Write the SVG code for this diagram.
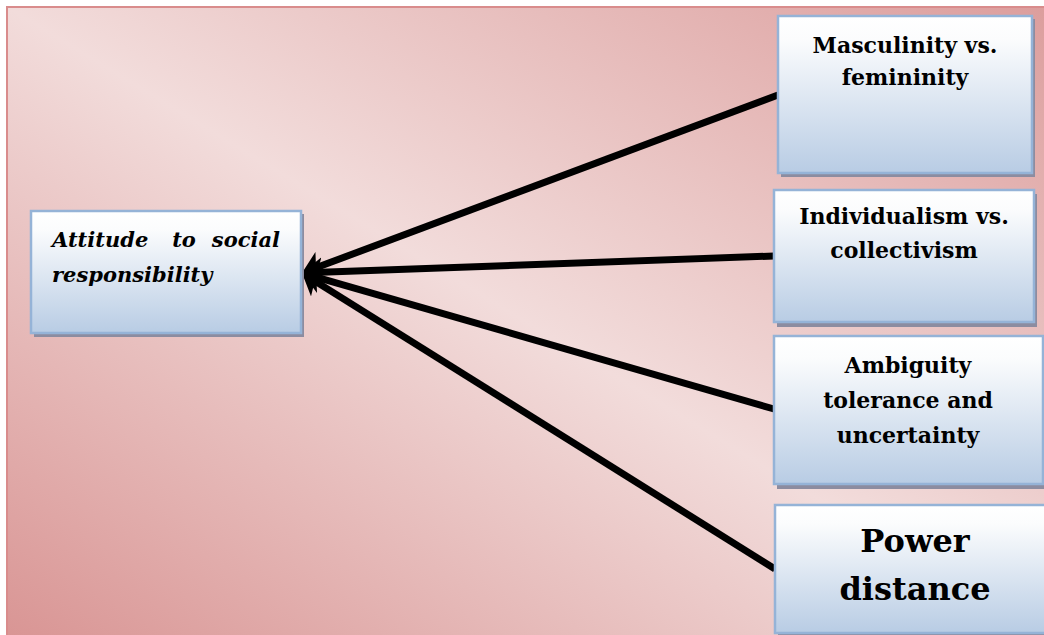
<svg xmlns="http://www.w3.org/2000/svg" width="1044" height="635" viewBox="0 0 1044 635">
  <defs>
    <linearGradient id="bg" x1="0" y1="1" x2="1" y2="0">
      <stop offset="0" stop-color="#d99594"/>
      <stop offset="0.5" stop-color="#f2dcdb"/>
      <stop offset="1" stop-color="#dc9e9d"/>
    </linearGradient>
    <linearGradient id="box" x1="0" y1="0" x2="0" y2="1">
      <stop offset="0" stop-color="#ffffff"/>
      <stop offset="0.15" stop-color="#fbfcfd"/>
      <stop offset="1" stop-color="#b8cce4"/>
    </linearGradient>
    <marker id="arrow" markerUnits="userSpaceOnUse" markerWidth="20" markerHeight="30" refX="8" refY="15" orient="auto" viewBox="0 0 20 30">
      <path d="M0,0 L20,15 L0,30 L5,15 Z" fill="#000"/>
    </marker>
    <style>
      .shadow { fill: #8c8ca0; }
      .box { fill: url(#box); stroke: #95b3d7; stroke-width: 2.5; }
      .lbl { font-family: "DejaVu Serif", "Liberation Serif", serif; font-weight: bold; fill: #000; text-anchor: middle; }
      .it { font-family: "DejaVu Serif", "Liberation Serif", serif; font-weight: bold; font-style: italic; fill: #000; }
      .conn { stroke: #000; stroke-width: 7; fill: none; marker-end: url(#arrow); }
    </style>
  </defs>

  <rect x="7" y="7" width="1040" height="631" fill="url(#bg)" stroke="#d98c8c" stroke-width="2"/>

  <g id="connectors">
    <line class="conn" x1="778" y1="95" x2="313.2" y2="268.8"/>
    <line class="conn" x1="774" y1="256" x2="314" y2="272.6"/>
    <line class="conn" x1="774" y1="409" x2="313.5" y2="276.3"/>
    <line class="conn" x1="775" y1="569" x2="312.2" y2="279.4"/>
  </g>

  <g id="attitude">
    <rect class="shadow" x="34" y="214" width="270" height="123"/>
    <rect class="box" x="31" y="211" width="270" height="122"/>
    <text class="it" font-size="21" x="52" y="247">Attitude</text>
    <text class="it" font-size="21" x="184" y="247" text-anchor="middle">to</text>
    <text class="it" font-size="21" x="280" y="247" text-anchor="end">social</text>
    <text class="it" font-size="21" x="52" y="282">responsibility</text>
  </g>

  <g id="masculinity">
    <rect class="shadow" x="781" y="19" width="254" height="158"/>
    <rect class="box" x="778" y="16" width="254" height="157"/>
    <text class="lbl" font-size="22" x="905" y="53">Masculinity vs.</text>
    <text class="lbl" font-size="22" x="905" y="85">femininity</text>
  </g>

  <g id="individualism">
    <rect class="shadow" x="777" y="194" width="260" height="133"/>
    <rect class="box" x="774" y="190" width="260" height="132"/>
    <text class="lbl" font-size="22" x="904" y="224">Individualism vs.</text>
    <text class="lbl" font-size="22" x="904" y="258">collectivism</text>
  </g>

  <g id="ambiguity">
    <rect class="shadow" x="777" y="340" width="270" height="149"/>
    <rect class="box" x="774" y="336" width="269" height="148"/>
    <text class="lbl" font-size="22" x="908" y="373">Ambiguity</text>
    <text class="lbl" font-size="22" x="908" y="408">tolerance and</text>
    <text class="lbl" font-size="22" x="908" y="443">uncertainty</text>
  </g>

  <g id="power">
    <rect class="shadow" x="778" y="509" width="290" height="130"/>
    <rect class="box" x="775" y="505" width="290" height="128"/>
    <text class="lbl" font-size="32" x="915" y="552">Power</text>
    <text class="lbl" font-size="32" x="915" y="600">distance</text>
  </g>
</svg>
